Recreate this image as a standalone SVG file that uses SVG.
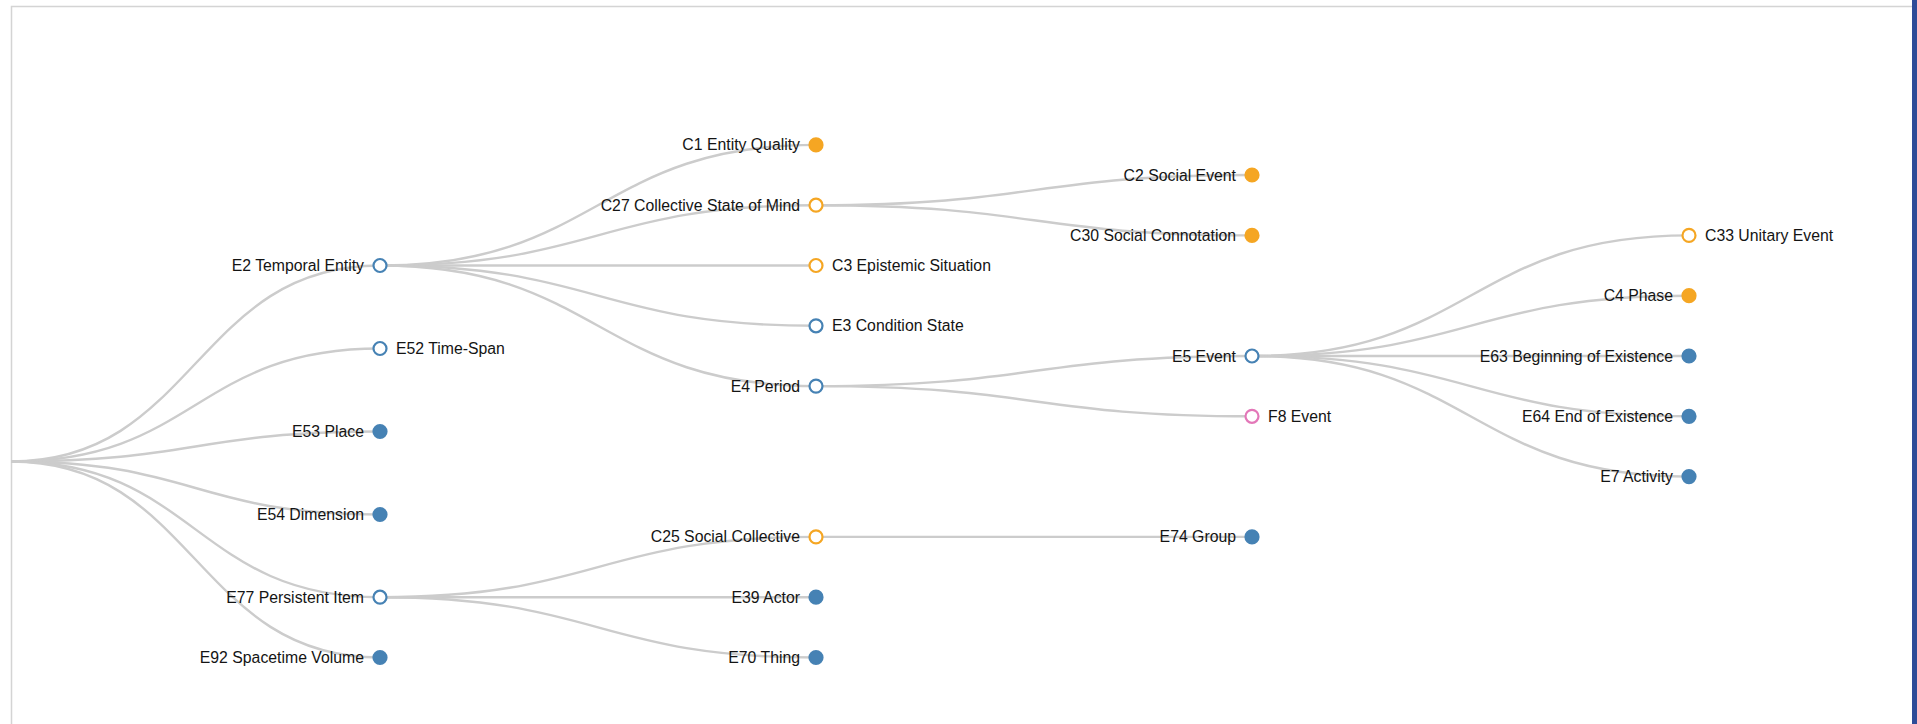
<svg xmlns="http://www.w3.org/2000/svg" width="1917" height="724" viewBox="0 0 1917 724">
<style>
.link{fill:none;stroke:#cccccc;stroke-width:2.4}
.n circle{stroke-width:2.2}
.ob{fill:#ffffff;stroke:#4682b4}
.fb{fill:#4682b4;stroke:#4682b4}
.oo{fill:#ffffff;stroke:#f5a623}
.fo{fill:#f5a623;stroke:#f5a623}
.op{fill:#ffffff;stroke:#e377b8}
.n text{font-family:"Liberation Sans",Arial,sans-serif;font-size:15.8px;fill:#141414}
.l{text-anchor:end}
.r{text-anchor:start}
</style>
<rect x="0" y="0" width="1917" height="724" fill="#ffffff"/>
<path d="M11.5,724 V6.5 H1912" fill="none" stroke="#d4d4d4" stroke-width="1.5"/>
<rect x="1912" y="0" width="5" height="724" fill="#2e4b98"/>
<g id="links">
<path class="link" d="M11,461.5 C195.5,461.5 195.5,265.5 380,265.5"/>
<path class="link" d="M11,461.5 C195.5,461.5 195.5,348.5 380,348.5"/>
<path class="link" d="M11,461.5 C195.5,461.5 195.5,431.5 380,431.5"/>
<path class="link" d="M11,461.5 C195.5,461.5 195.5,514.5 380,514.5"/>
<path class="link" d="M11,461.5 C195.5,461.5 195.5,597.2 380,597.2"/>
<path class="link" d="M11,461.5 C195.5,461.5 195.5,657.5 380,657.5"/>
<path class="link" d="M380,265.5 C598,265.5 598,144.9 816,144.9"/>
<path class="link" d="M380,265.5 C598,265.5 598,205.2 816,205.2"/>
<path class="link" d="M380,265.5 C598,265.5 598,265.5 816,265.5"/>
<path class="link" d="M380,265.5 C598,265.5 598,325.8 816,325.8"/>
<path class="link" d="M380,265.5 C598,265.5 598,386.1 816,386.1"/>
<path class="link" d="M380,597.2 C598,597.2 598,536.9 816,536.9"/>
<path class="link" d="M380,597.2 C598,597.2 598,597.2 816,597.2"/>
<path class="link" d="M380,597.2 C598,597.2 598,657.5 816,657.5"/>
<path class="link" d="M816,205.2 C1034,205.2 1034,175 1252,175"/>
<path class="link" d="M816,205.2 C1034,205.2 1034,235.4 1252,235.4"/>
<path class="link" d="M816,386.1 C1034,386.1 1034,356 1252,356"/>
<path class="link" d="M816,386.1 C1034,386.1 1034,416.3 1252,416.3"/>
<path class="link" d="M816,536.9 C1034,536.9 1034,536.9 1252,536.9"/>
<path class="link" d="M1252,356 C1470.5,356 1470.5,235.4 1689,235.4"/>
<path class="link" d="M1252,356 C1470.5,356 1470.5,295.7 1689,295.7"/>
<path class="link" d="M1252,356 C1470.5,356 1470.5,356 1689,356"/>
<path class="link" d="M1252,356 C1470.5,356 1470.5,416.3 1689,416.3"/>
<path class="link" d="M1252,356 C1470.5,356 1470.5,476.6 1689,476.6"/>
</g>
<g id="E2" class="n" transform="translate(380,265.5)"><circle r="6.5" class="ob"/><text class="l" x="-16" dy="0.35em">E2 Temporal Entity</text></g>
<g id="E52" class="n" transform="translate(380,348.5)"><circle r="6.5" class="ob"/><text class="r" x="16" dy="0.35em">E52 Time-Span</text></g>
<g id="E53" class="n" transform="translate(380,431.5)"><circle r="6.5" class="fb"/><text class="l" x="-16" dy="0.35em">E53 Place</text></g>
<g id="E54" class="n" transform="translate(380,514.5)"><circle r="6.5" class="fb"/><text class="l" x="-16" dy="0.35em">E54 Dimension</text></g>
<g id="E77" class="n" transform="translate(380,597.2)"><circle r="6.5" class="ob"/><text class="l" x="-16" dy="0.35em">E77 Persistent Item</text></g>
<g id="E92" class="n" transform="translate(380,657.5)"><circle r="6.5" class="fb"/><text class="l" x="-16" dy="0.35em">E92 Spacetime Volume</text></g>
<g id="C1" class="n" transform="translate(816,144.9)"><circle r="6.5" class="fo"/><text class="l" x="-16" dy="0.35em">C1 Entity Quality</text></g>
<g id="C27" class="n" transform="translate(816,205.2)"><circle r="6.5" class="oo"/><text class="l" x="-16" dy="0.35em">C27 Collective State of Mind</text></g>
<g id="C3" class="n" transform="translate(816,265.5)"><circle r="6.5" class="oo"/><text class="r" x="16" dy="0.35em">C3 Epistemic Situation</text></g>
<g id="E3" class="n" transform="translate(816,325.8)"><circle r="6.5" class="ob"/><text class="r" x="16" dy="0.35em">E3 Condition State</text></g>
<g id="E4" class="n" transform="translate(816,386.1)"><circle r="6.5" class="ob"/><text class="l" x="-16" dy="0.35em">E4 Period</text></g>
<g id="C25" class="n" transform="translate(816,536.9)"><circle r="6.5" class="oo"/><text class="l" x="-16" dy="0.35em">C25 Social Collective</text></g>
<g id="E39" class="n" transform="translate(816,597.2)"><circle r="6.5" class="fb"/><text class="l" x="-16" dy="0.35em">E39 Actor</text></g>
<g id="E70" class="n" transform="translate(816,657.5)"><circle r="6.5" class="fb"/><text class="l" x="-16" dy="0.35em">E70 Thing</text></g>
<g id="C2" class="n" transform="translate(1252,175)"><circle r="6.5" class="fo"/><text class="l" x="-16" dy="0.35em">C2 Social Event</text></g>
<g id="C30" class="n" transform="translate(1252,235.4)"><circle r="6.5" class="fo"/><text class="l" x="-16" dy="0.35em">C30 Social Connotation</text></g>
<g id="E5" class="n" transform="translate(1252,356)"><circle r="6.5" class="ob"/><text class="l" x="-16" dy="0.35em">E5 Event</text></g>
<g id="F8" class="n" transform="translate(1252,416.3)"><circle r="6.5" class="op"/><text class="r" x="16" dy="0.35em">F8 Event</text></g>
<g id="E74" class="n" transform="translate(1252,536.9)"><circle r="6.5" class="fb"/><text class="l" x="-16" dy="0.35em">E74 Group</text></g>
<g id="C33" class="n" transform="translate(1689,235.4)"><circle r="6.5" class="oo"/><text class="r" x="16" dy="0.35em">C33 Unitary Event</text></g>
<g id="C4" class="n" transform="translate(1689,295.7)"><circle r="6.5" class="fo"/><text class="l" x="-16" dy="0.35em">C4 Phase</text></g>
<g id="E63" class="n" transform="translate(1689,356)"><circle r="6.5" class="fb"/><text class="l" x="-16" dy="0.35em">E63 Beginning of Existence</text></g>
<g id="E64" class="n" transform="translate(1689,416.3)"><circle r="6.5" class="fb"/><text class="l" x="-16" dy="0.35em">E64 End of Existence</text></g>
<g id="E7" class="n" transform="translate(1689,476.6)"><circle r="6.5" class="fb"/><text class="l" x="-16" dy="0.35em">E7 Activity</text></g>
</svg>
